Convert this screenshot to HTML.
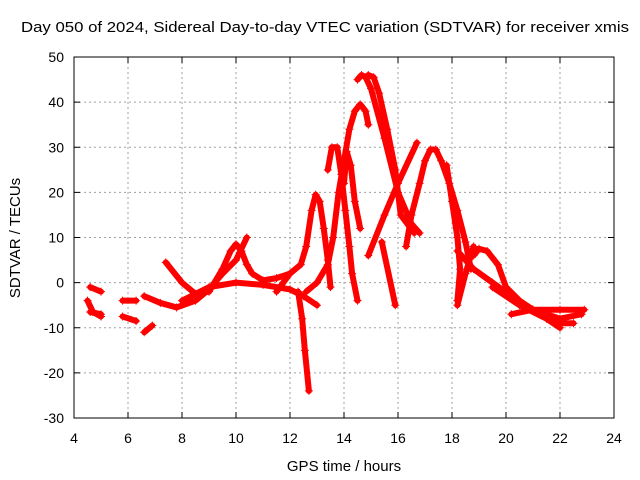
<!DOCTYPE html>
<html><head><meta charset="utf-8"><style>
body{margin:0;background:#fff;}
svg{display:block;font-family:"Liberation Sans",sans-serif;}
</style></head><body>
<svg id="chart" width="640" height="480">
<text x="325" y="32" font-size="15" text-anchor="middle" textLength="608" lengthAdjust="spacingAndGlyphs">Day 050 of 2024, Sidereal Day-to-day VTEC variation (SDTVAR) for receiver xmis</text>
<text x="344" y="471" font-size="15" text-anchor="middle">GPS time / hours</text>
<text transform="translate(20,238) rotate(-90)" font-size="15" text-anchor="middle">SDTVAR / TECUs</text>
<g id="grid"></g><g id="series"></g><g id="axes"></g>
</svg>
<script>
const xTicks=[4,6,8,10,12,14,16,18,20,22,24];
const yTicks=[-30,-20,-10,0,10,20,30,40,50];
const trackHours=[
[4.6,5.0],[4.5,4.7,5.0],[4.6,5.0],[5.8,6.3],[5.8,6.3],[6.6,6.9],
[6.6,7.2,7.8,8.5,9,9.5,10.0,10.4],
[7.4,8,8.5,9,9.5,9.8,10,10.2,10.4,10.6,11,11.5,12],
[8,9,10,11,12,12.5,13],
[12.3,12.45,12.55,12.7],
[11.5,12,12.4,12.6,12.8,12.95,13.1,13.25,13.4,13.5],
[12.6,13,13.4,13.6,13.8,14,14.2,14.4,14.6,14.8,14.9],
[13.4,13.55,13.75,13.9,14.05,14.2,14.3,14.5],
[14.0,14.1,14.25,14.4,14.6],
[14.5,14.65,14.8,15.0,15.5,16.0,16.5,16.8],
[14.9,15.1,15.3,15.6,15.9,16.1,16.6],
[14.9,15.5,16.0,16.7],
[15.4,15.9],
[16.3,16.5,16.8,17.0,17.2,17.4,17.6,17.9,18.2,18.5,18.7],
[17.8,18.0,18.2,18.3,18.2],
[18.2,18.5,18.8],
[18.2,18.8,19.5,20.2,21,22,22.8],
[18.8,19.0,19.3,19.7,20,20.5,21,22,22.5],
[20.2,21,22,22.9],
[19.5,20.5,21.5,22]];
const trackValues=[
[-1,-2],[-4,-6.5,-7.5],[-6.5,-7],[-4,-4],[-7.5,-8.5],[-11,-9.5],
[-3,-4.5,-5.5,-4,-1.5,2,5,10],
[4.5,0,-2.5,-2,3,7,8.5,7,4,2,0.5,1,2],
[-4,-1,0,-0.5,-1.5,-3,-5],
[-2,-8,-15,-24],
[-2,2,4,8,16,19.5,18,12,5,-1],
[-2,0,4,10,20,27,34,38,39.5,38,35],
[25,30,30,24,16,8,2,-4],
[22,29,26,18,12],
[45,46,45.5,43,32,20,13,11],
[46,45.5,42,34,25,15,11],
[6,15,22,31],
[9,-5],
[8,15,22,27,29.5,29.5,27,22,16,9,3],
[26,18,10,3,-4],
[-5,2,8],
[7,3,0,-3,-6,-8,-7],
[6,7.5,7,4,-1,-4,-6,-9,-9],
[-7,-6,-6,-6],
[-1,-5,-8,-10]];
const X0=74,X1=614,Y0=418,Y1=57;
const xs=h=>X0+(h-4)/20*(X1-X0);
const ys=v=>Y0-(v+30)/80*(Y0-Y1);
const NS="http://www.w3.org/2000/svg";
function mk(t,a,p){const e=document.createElementNS(NS,t);for(const k in a)e.setAttribute(k,a[k]);p.appendChild(e);return e;}
const grid=document.getElementById('grid'),axes=document.getElementById('axes'),ser=document.getElementById('series');
xTicks.forEach(t=>{const x=xs(t);
 if(t>4&&t<24){const l=mk('line',{x1:x,x2:x,y1:Y1,y2:Y0,stroke:'#a0a0a0','stroke-dasharray':'2,3'},grid);
 
 }
 mk('line',{x1:x,x2:x,y1:Y0,y2:Y0-6,stroke:'#000'},axes);mk('line',{x1:x,x2:x,y1:Y1,y2:Y1+6,stroke:'#000'},axes);
 const tx=mk('text',{x:x,y:443,'font-size':14,'text-anchor':'middle'},axes);tx.textContent=t;
 
 });
yTicks.forEach(t=>{const y=ys(t);
 if(t>-30&&t<50){const l=mk('line',{x1:X0,x2:X1,y1:y,y2:y,stroke:'#a0a0a0','stroke-dasharray':'2,3'},grid);
 
 }
 mk('line',{x1:X0,x2:X0+6,y1:y,y2:y,stroke:'#000'},axes);mk('line',{x1:X1,x2:X1-6,y1:y,y2:y,stroke:'#000'},axes);
 const tx=mk('text',{x:X0-10,y:y+5,'font-size':14,'text-anchor':'end'},axes);tx.textContent=t;
 
 });
const fr=mk('rect',{x:X0,y:Y1,width:X1-X0,height:Y0-Y1,fill:'none',stroke:'#000'},axes);


trackHours.forEach((hs,i)=>{const vs=trackValues[i];
 const pts=hs.map((h,j)=>xs(h)+','+ys(vs[j])).join(' ');
 const pl=mk('polyline',{points:pts,fill:'none',stroke:'#f00','stroke-width':6,'stroke-linejoin':'round','stroke-linecap':'round'},ser);
 
 
 hs.forEach((h,j)=>{const x=xs(h),y=ys(vs[j]);
  const m=mk('path',{d:`M${x-4},${y}H${x+4}M${x},${y-4}V${y+4}`,stroke:'#f00','stroke-width':1},ser);
  
  });
});
</script>
</body></html>
